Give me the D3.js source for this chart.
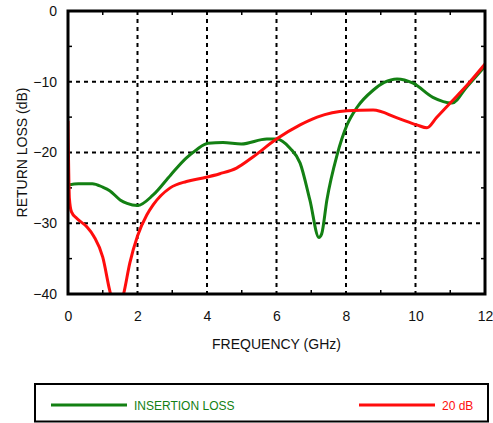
<!DOCTYPE html>
<html>
<head>
<meta charset="utf-8">
<script src="https://cdn.jsdelivr.net/npm/d3@7"></script>
<style>
body { margin: 0; background: #fff; }
svg { display: block; font-family: "Liberation Sans", Arial, sans-serif; }
</style>
</head>
<body>
<div class="container"></div>
<script>
const WIDTH = 493;
const HEIGHT = 423;

var xTicks = [0, 2, 4, 6, 8, 10, 12];
var xMinor = [1, 3, 5, 7, 9, 11];
var yTicks = [0, -10, -20, -30, -40];
var yMinor = [-5, -15, -25, -35];

var insertionFreq = [0, 0.3, 0.7, 1.0, 1.2, 1.5, 1.7, 2.0, 2.45, 2.95, 3.4, 3.7, 4.03, 4.46, 4.99, 5.72, 6.0, 6.39, 6.68, 6.96, 7.22, 7.3, 7.45, 7.74, 8.03, 8.32, 8.78, 9.1, 9.47, 9.93, 10.5, 11.05, 11.48, 12];
var insertionLoss = [-24.6, -24.4, -24.4, -24.9, -25.4, -26.7, -27.2, -27.5, -26.0, -23.2, -20.8, -19.6, -18.7, -18.6, -18.8, -18.1, -18.1, -19.4, -21.5, -26.7, -32, -31.5, -26.7, -20.4, -16.1, -13.6, -11.2, -10.1, -9.6, -10.2, -12.2, -13, -10.7, -7.8];

var db20Freq = [0, 0.04, 0.1, 0.25, 0.54, 0.75, 1.0, 1.2, 1.4, 1.6, 1.78, 2.0, 2.27, 2.45, 2.94, 3.41, 3.89, 4.37, 4.85, 5.33, 6.0, 6.68, 7.17, 8.03, 8.78, 9.47, 10.04, 10.33, 10.6, 11.0, 11.48, 12];
var db20Loss = [-15.5, -26.5, -28.4, -29.3, -30.5, -31.9, -34.8, -39.5, -43, -40, -35.6, -31.8, -28.8, -27.4, -25.0, -24.1, -23.6, -23.0, -22.2, -20.6, -18.1, -16.1, -15, -14.1, -14, -15.1, -16.1, -16.5, -15.1, -13, -10.5, -7.5];

var seriesNames = ["INSERTION LOSS", "20 dB"];
var seriesColors = ["#138013", "#ff0d0d"];

var load = function(){
    var left = 68, right = 485, top = 11, bottom = 294;

    var x_scale = d3.scaleLinear().domain([0, 12]).range([left, right]);
    var y_scale = d3.scaleLinear().domain([-40, 0]).range([bottom, top]);

    var svg = d3.select(".container").append("svg")
        .attr("width", WIDTH)
        .attr("height", HEIGHT);

    svg.append("clipPath").attr("id", "plot")
        .append("rect")
        .attr("x", left).attr("y", top)
        .attr("width", right - left).attr("height", bottom - top);

    // dashed grid
    svg.selectAll(".vgrid").data(xTicks.slice(1, -1)).enter()
        .append("line")
        .attr("x1", d => x_scale(d)).attr("x2", d => x_scale(d))
        .attr("y1", top).attr("y2", bottom)
        .style("stroke", "#000").style("stroke-width", 2).style("stroke-dasharray", "4,4");
    svg.selectAll(".hgrid").data(yTicks.slice(1, -1)).enter()
        .append("line")
        .attr("x1", left).attr("x2", right)
        .attr("y1", d => y_scale(d)).attr("y2", d => y_scale(d))
        .style("stroke", "#000").style("stroke-width", 2).style("stroke-dasharray", "4,4");

    // minor ticks inward on all sides
    var minor = svg.append("g").style("stroke", "#000").style("stroke-width", 1.5);
    xMinor.forEach(function(v){
        minor.append("line").attr("x1", x_scale(v)).attr("x2", x_scale(v)).attr("y1", top).attr("y2", top + 4);
        minor.append("line").attr("x1", x_scale(v)).attr("x2", x_scale(v)).attr("y1", bottom).attr("y2", bottom - 4);
    });
    yMinor.forEach(function(v){
        minor.append("line").attr("x1", left).attr("x2", left + 4).attr("y1", y_scale(v)).attr("y2", y_scale(v));
        minor.append("line").attr("x1", right).attr("x2", right - 4).attr("y1", y_scale(v)).attr("y2", y_scale(v));
    });

    // axes labels
    var xAxis = svg.append("g")
        .attr("transform", "translate(0," + bottom + ")")
        .call(d3.axisBottom(x_scale).tickValues(xTicks).tickSize(0).tickPadding(17));
    xAxis.select(".domain").remove();
    xAxis.selectAll("text").style("font-size", "14px").style("fill", "#111")
        .style("font-family", "'Liberation Sans', Arial, sans-serif");

    var yAxis = svg.append("g")
        .attr("transform", "translate(" + left + ",0)")
        .call(d3.axisLeft(y_scale).tickValues(yTicks).tickSize(0).tickPadding(11));
    yAxis.select(".domain").remove();
    yAxis.selectAll("text").style("font-size", "14px").style("fill", "#111")
        .style("font-family", "'Liberation Sans', Arial, sans-serif");

    svg.append("text")
        .attr("x", (left + right) / 2).attr("y", 349)
        .attr("text-anchor", "middle")
        .style("font-size", "14px").style("fill", "#111")
        .text("FREQUENCY (GHz)");

    svg.append("text")
        .attr("transform", "translate(27," + ((top + bottom) / 2) + ") rotate(-90)")
        .attr("text-anchor", "middle")
        .style("font-size", "14px").style("fill", "#111")
        .text("RETURN LOSS (dB)");

    // curves
    var line = d3.line()
        .x(d => x_scale(d[0]))
        .y(d => y_scale(d[1]))
        .curve(d3.curveMonotoneX);

    var series = [d3.zip(insertionFreq, insertionLoss), d3.zip(db20Freq, db20Loss)];
    var curves = svg.append("g").attr("clip-path", "url(#plot)");
    curves.selectAll("path").data(series).enter()
        .append("path")
        .attr("d", line)
        .style("fill", "none")
        .style("stroke", (d, i) => seriesColors[i])
        .style("stroke-width", 3)
        .style("stroke-linejoin", "round");

    // frame
    svg.append("rect")
        .attr("x", left).attr("y", top)
        .attr("width", right - left).attr("height", bottom - top)
        .style("fill", "none").style("stroke", "#000").style("stroke-width", 3);

    // legend
    var legend = svg.append("g");
    legend.append("rect")
        .attr("x", 35).attr("y", 384).attr("width", 453).attr("height", 37.5)
        .style("fill", "none").style("stroke", "#000").style("stroke-width", 2);
    var legendX = [51, 359];
    seriesNames.forEach(function(name, i){
        legend.append("line")
            .attr("x1", legendX[i]).attr("x2", legendX[i] + 76)
            .attr("y1", 405).attr("y2", 405)
            .style("stroke", seriesColors[i]).style("stroke-width", 3);
        legend.append("text")
            .attr("x", legendX[i] + 83).attr("y", 409.5)
            .style("font-size", "12px").style("fill", seriesColors[i])
            .text(name);
    });
};

window.onload = load;
</script>
</body>
</html>
